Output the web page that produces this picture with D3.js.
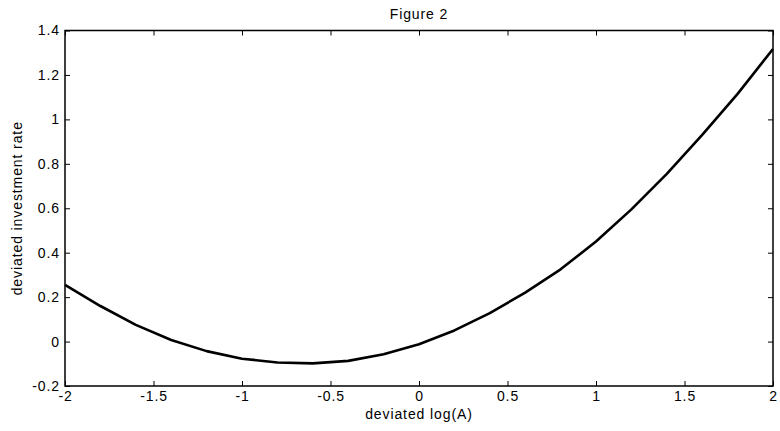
<!DOCTYPE html>
<html>
<head>
<meta charset="utf-8">
<script src="https://cdn.jsdelivr.net/npm/d3@7"></script>
<style>
  body { margin: 0; background: #fff; }
  text { font-family: "Liberation Sans", Arial, sans-serif; font-size: 14px; letter-spacing: 0.9px; fill: #000; }
</style>
</head>
<body>
<div id="chart"></div>
<script>
// data
var logA = [-2, -1.8, -1.6, -1.4, -1.2, -1, -0.8, -0.6, -0.4, -0.2, 0,
            0.2, 0.4, 0.6, 0.8, 1, 1.2, 1.4, 1.6, 1.8, 2];
var invRate = [0.255, 0.16, 0.075, 0.007, -0.043, -0.077, -0.094, -0.098, -0.087, -0.057, -0.012,
               0.05, 0.128, 0.22, 0.325, 0.45, 0.595, 0.755, 0.93, 1.115, 1.317];
var xTicks = [-2, -1.5, -1, -0.5, 0, 0.5, 1, 1.5, 2];
var yTicks = [-0.2, 0, 0.2, 0.4, 0.6, 0.8, 1, 1.2, 1.4];

var width = 780, height = 431;
var plotLeft = 65, plotRight = 773, plotTop = 30.5, plotBottom = 386;

var svg = d3.select("#chart").append("svg")
  .attr("width", width).attr("height", height);

var xScale = d3.scaleLinear().domain([-2, 2]).range([plotLeft, plotRight]);
var yScale = d3.scaleLinear().domain([-0.2, 1.4]).range([plotBottom, plotTop]);

// inward ticks on all four sides, matlab style
var tl = 5;
function fmt(v) { return String(+v.toFixed(1)); }

function noDomain(g) { g.select(".domain").remove(); }

svg.append("g")
  .attr("transform", "translate(0," + plotBottom + ")")
  .call(d3.axisBottom(xScale).tickValues(xTicks).tickSize(-tl).tickPadding(5).tickFormat(fmt))
  .call(noDomain);
svg.append("g")
  .attr("transform", "translate(0," + plotTop + ")")
  .call(d3.axisTop(xScale).tickValues(xTicks).tickSize(-tl).tickFormat(""))
  .call(noDomain);
svg.append("g")
  .attr("transform", "translate(" + plotLeft + ",0)")
  .call(d3.axisLeft(yScale).tickValues(yTicks).tickSize(-tl).tickPadding(5).tickFormat(fmt))
  .call(noDomain);
svg.append("g")
  .attr("transform", "translate(" + plotRight + ",0)")
  .call(d3.axisRight(yScale).tickValues(yTicks).tickSize(-tl).tickFormat(""))
  .call(noDomain);

svg.selectAll(".tick text")
  .style("font-size", "14px")
  .style("letter-spacing", "0.9px")
  .style("font-family", "Liberation Sans, Arial, sans-serif");
svg.selectAll(".tick line").attr("stroke", "#000");

// box
svg.append("rect")
  .attr("x", plotLeft).attr("y", plotTop)
  .attr("width", plotRight - plotLeft).attr("height", plotBottom - plotTop)
  .attr("fill", "none").attr("stroke", "#000").attr("stroke-width", 1.5);

var line = d3.line()
  .x(function (d, i) { return xScale(logA[i]); })
  .y(function (d) { return yScale(d); });

svg.append("path")
  .datum(invRate)
  .attr("d", line)
  .attr("fill", "none")
  .attr("stroke", "#000")
  .attr("stroke-width", 2.6)
  .attr("stroke-linejoin", "round");

// labels
svg.append("text")
  .attr("x", (plotLeft + plotRight) / 2).attr("y", 19)
  .attr("text-anchor", "middle")
  .text("Figure 2");
svg.append("text")
  .attr("x", (plotLeft + plotRight) / 2).attr("y", 419)
  .attr("text-anchor", "middle")
  .text("deviated log(A)");
svg.append("text")
  .attr("transform", "translate(22," + ((plotTop + plotBottom) / 2) + ")rotate(-90)")
  .attr("text-anchor", "middle")
  .text("deviated investment rate");
</script>
</body>
</html>
